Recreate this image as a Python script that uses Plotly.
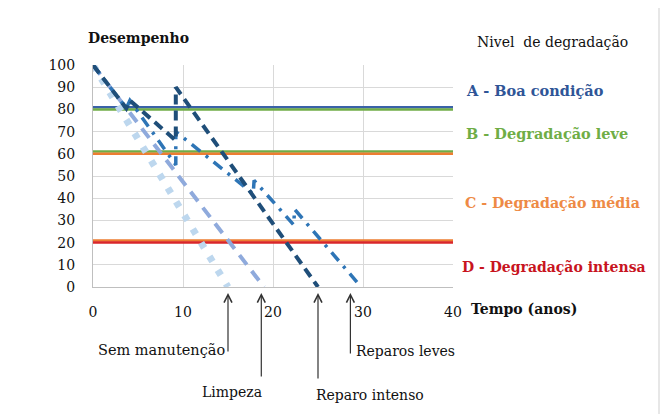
import plotly.graph_objects as go

# ---- data ----
sem_x = [0, 15]
sem_y = [100, 0]
limpeza_x = [0, 19]
limpeza_y = [100, 0]
intenso_x = [0, 3.7, 4.1, 9.2, 9.2, 25]
intenso_y = [100, 80.5, 84, 66, 90, 0]
leves_x = [0, 3.7, 4.1, 9.2, 9.2, 17.8, 17.9, 22.3, 22.4, 29.8]
leves_y = [100, 80.5, 84, 55, 70, 42, 48, 28, 35, 0]

level_names = ["A - Boa condição", "B - Degradação leve", "C - Degradação média", "D - Degradação intensa"]
level_upper = [81, 61, 21]
level_lower = [80, 60, 20]

arrow_labels = ["Sem manutenção", "Limpeza", "Reparo intenso", "Reparos leves"]
arrow_x = [15, 18.7, 25, 28.6]

x_ticks = [0, 10, 20, 30, 40]
y_ticks = [0, 10, 20, 30, 40, 50, 60, 70, 80, 90, 100]

# ---- layout geometry (pixels, in page coordinates; page body has 8px margin) ----
OFF = 8
W, H = 668 - OFF, 414 - OFF
L, R, T, B = 93, 453, 65, 287


def px(p):
    return (p - L) / (R - L)


def py(p):
    return (B - p) / (B - T)


SERIF = "DejaVu Serif, Liberation Serif, Noto Serif, serif"

fig = go.Figure()

# threshold lines
upper_colors = ["#3A62A8", "#70AD47", "#ED7D31"]
lower_colors = ["#70AD47", "#ED7D31", "#D9262A"]
for v, c in zip(level_upper, upper_colors):
    fig.add_trace(go.Scatter(x=[0, 40], y=[v, v], mode="lines",
                             line=dict(color=c, width=2.5), hoverinfo="skip"))
for v, c in zip(level_lower, lower_colors):
    fig.add_trace(go.Scatter(x=[0, 40], y=[v, v], mode="lines",
                             line=dict(color=c, width=2.5), hoverinfo="skip"))

# degradation curves
fig.add_trace(go.Scatter(x=sem_x, y=sem_y, mode="lines",
                         line=dict(color="#BDD7EE", width=7, dash="6px,10px")))
fig.add_trace(go.Scatter(x=limpeza_x, y=limpeza_y, mode="lines",
                         line=dict(color="#8FAADC", width=4, dash="12px,8px")))
fig.add_trace(go.Scatter(x=leves_x, y=leves_y, mode="lines",
                         line=dict(color="#2E75B6", width=3.5, dash="11px,7px,3px,7px")))
fig.add_trace(go.Scatter(x=intenso_x, y=intenso_y, mode="lines",
                         line=dict(color="#1F4E79", width=4, dash="10px,6px")))

annotations = []


def txt(text, x, y, size=16, color="#111111", bold=False, xanchor="left"):
    t = f"<b>{text}</b>" if bold else text
    if xanchor == "left":
        x = x - 3
    annotations.append(dict(text=t, x=px(x), y=py(y), xref="paper", yref="paper",
                            xanchor=xanchor, yanchor="middle", showarrow=False,
                            font=dict(family=SERIF, size=size, color=color)))


txt("Desempenho", 89, 38, size=14, bold=True)
txt("Nivel  de degradação", 478, 42, size=14)
legend_colors = ["#2F5597", "#6FAD46", "#EE8A45", "#C8141E"]
legend_y = [90, 133, 203, 267]
legend_x = [467, 467, 466, 463]
legend_sizes = [14.5, 14.5, 14.2, 14]
for name, c, yy, xx, sz in zip(level_names, legend_colors, legend_y, legend_x, legend_sizes):
    txt(name, xx, yy, size=sz, color=c, bold=True)
txt("Tempo (anos)", 472, 309, size=14, bold=True)

label_pos = [(161, 350), (232, 392), (370, 395), (405, 351)]
label_sizes = [14.5, 14, 14, 14]
tails = [60, 85, 87, 62]
for lab, (lx, ly), sz in zip(arrow_labels, label_pos, label_sizes):
    txt(lab, lx, ly, size=sz, xanchor="center")
for ax_, tl in zip(arrow_x, tails):
    annotations.append(dict(x=ax_, y=py(293), xref="x", yref="paper", text="",
                            showarrow=True, arrowhead=5, arrowsize=1.3, arrowwidth=1.2,
                            arrowcolor="#333333", ax=0, ay=tl))

fig.update_layout(
    width=W, height=H,
    margin=dict(l=L - OFF, r=W - (R - OFF), t=T - OFF, b=H - (B - OFF)),
    paper_bgcolor="white", plot_bgcolor="white",
    showlegend=False,
    annotations=annotations,
    font=dict(family=SERIF, size=14, color="#111111"),
    shapes=[dict(type="line", xref="paper", yref="paper",
                 x0=px(659), x1=px(659), y0=py(0), y1=py(414),
                 line=dict(color="#cfcfcf", width=1))],
)
fig.update_xaxes(range=[0, 40], tickvals=x_ticks, showgrid=True, gridcolor="#d9d9d9",
                 gridwidth=1, zeroline=False, showline=True, linecolor="#bfbfbf",
                 ticks="", ticklabelstandoff=12, tickfont=dict(family=SERIF, size=14))
fig.update_yaxes(range=[0, 100], tickvals=y_ticks, showgrid=True, gridcolor="#d9d9d9",
                 gridwidth=1, zeroline=False, showline=True, linecolor="#bfbfbf",
                 ticks="", ticklabelstandoff=14, tickfont=dict(family=SERIF, size=14))

fig.write_html("out.html")
